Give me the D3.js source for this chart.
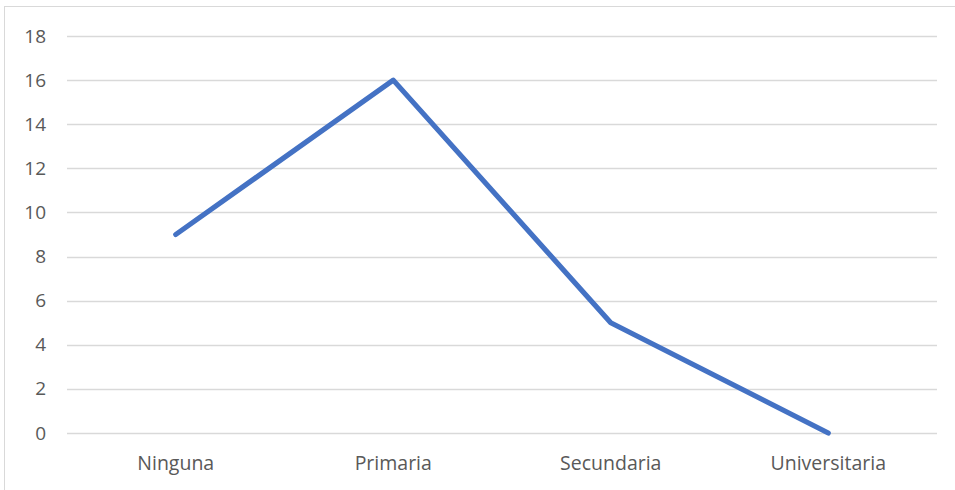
<!DOCTYPE html>
<html>
<head>
<meta charset="utf-8">
<script src="https://cdn.jsdelivr.net/npm/d3@7"></script>
<style>
  body { margin: 0; background: #fff; }
  svg text { font-family: "Open Sans", sans-serif; fill: #595959; }
</style>
</head>
<body>
<div id="chart"></div>
<script>
// niveles educativos y conteos
var categories = ['Ninguna', 'Primaria', 'Secundaria', 'Universitaria'];
var values = [9, 16, 5, 0];
var yTicks = [0, 2, 4, 6, 8, 10, 12, 14, 16, 18];

var width = 955;
var height = 490;
var margin = { top: 36, right: 18, bottom: 57, left: 67 };
var innerW = width - margin.left - margin.right;
var innerH = 433 - margin.top;

var svg = d3
	.select('#chart')
	.append('svg')
	.attr('width', width)
	.attr('height', height);

// chart border
svg.append('rect')
	.attr('x', 4.5)
	.attr('y', 6.5)
	.attr('width', width + 10)
	.attr('height', height + 10)
	.attr('fill', 'none')
	.attr('stroke', '#d9d9d9')
	.attr('stroke-width', 1);

var g = svg.append('g').attr('transform', 'translate(' + margin.left + ',' + margin.top + ')');

var x = d3.scaleBand().domain(categories).range([0, innerW]);
var y = d3.scaleLinear().domain([0, 18]).range([innerH, 0]);

// gridlines
g.selectAll('.grid')
	.data(yTicks)
	.enter()
	.append('line')
	.attr('x1', 0)
	.attr('x2', innerW)
	.attr('y1', (d) => Math.round(y(d)) + 0.5)
	.attr('y2', (d) => Math.round(y(d)) + 0.5)
	.attr('stroke', '#d9d9d9')
	.attr('stroke-width', 1.3);

// y axis labels
var yAxis = g.append('g')
	.call(d3.axisLeft(y).tickValues(yTicks).tickSize(0).tickPadding(21));
yAxis.select('.domain').remove();
yAxis.selectAll('text').attr('font-size', '19px').attr('fill', '#595959');

// x axis labels
var xAxis = g.append('g')
	.attr('transform', 'translate(0,' + innerH + ')')
	.call(d3.axisBottom(x).tickSize(0).tickPadding(23));
xAxis.select('.domain').remove();
xAxis.selectAll('text').attr('font-size', '19.5px').attr('fill', '#595959');

// line
var line = d3.line()
	.x((d, i) => x(categories[i]) + x.bandwidth() / 2)
	.y((d) => y(d));

g.append('path')
	.datum(values)
	.attr('d', line)
	.attr('fill', 'none')
	.attr('stroke', '#4472c4')
	.attr('stroke-width', 5.2)
	.attr('stroke-linejoin', 'round')
	.attr('stroke-linecap', 'round');
</script>
</body>
</html>
